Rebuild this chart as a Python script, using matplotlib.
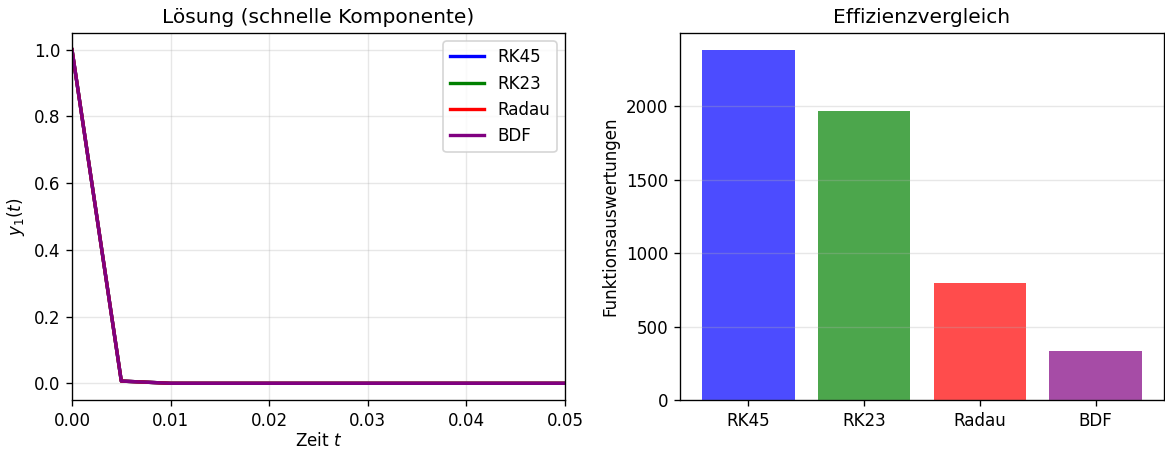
import numpy as np
import matplotlib.pyplot as plt

# Lösung y1(t) an den Ausgabezeitpunkten
zeit = [0.0, 0.005, 0.01, 0.015, 0.02, 0.025, 0.03, 0.035, 0.04, 0.045, 0.05]
y1 = [1.0, 0.0067, 0.00005, 0.0, 0.0, 0.0, 0.0, 0.0, 0.0, 0.0, 0.0]

methoden = ["RK45", "RK23", "Radau", "BDF"]
farben = ["blue", "green", "red", "purple"]
nfev = [2378, 1966, 793, 330]

dpi = 121
fig, (ax1, ax2) = plt.subplots(1, 2, figsize=(1165 / dpi, 450 / dpi), dpi=dpi)

for m, c in zip(methoden, farben):
    ax1.plot(zeit, y1, color=c, lw=2, label=m)
ax1.set_xlim(0, 0.05)
ax1.set_xlabel("Zeit $t$", labelpad=1.5)
ax1.set_ylabel("$y_1(t)$")
ax1.set_title("Lösung (schnelle Komponente)")
ax1.legend(loc="upper right")
ax1.grid(True, alpha=0.3)

ax2.bar(methoden, nfev, color=farben, alpha=0.7)
ax2.set_ylabel("Funktionsauswertungen")
ax2.set_title("Effizienzvergleich")
ax2.grid(True, axis="y", alpha=0.3)

W, H = 1165, 450
ax1.set_position([72 / W, 1 - 400 / H, (565 - 72) / W, (400 - 33) / H])
ax2.set_position([680 / W, 1 - 400 / H, (1164 - 680) / W, (400 - 33) / H])

plt.savefig("out.png", dpi=dpi)
